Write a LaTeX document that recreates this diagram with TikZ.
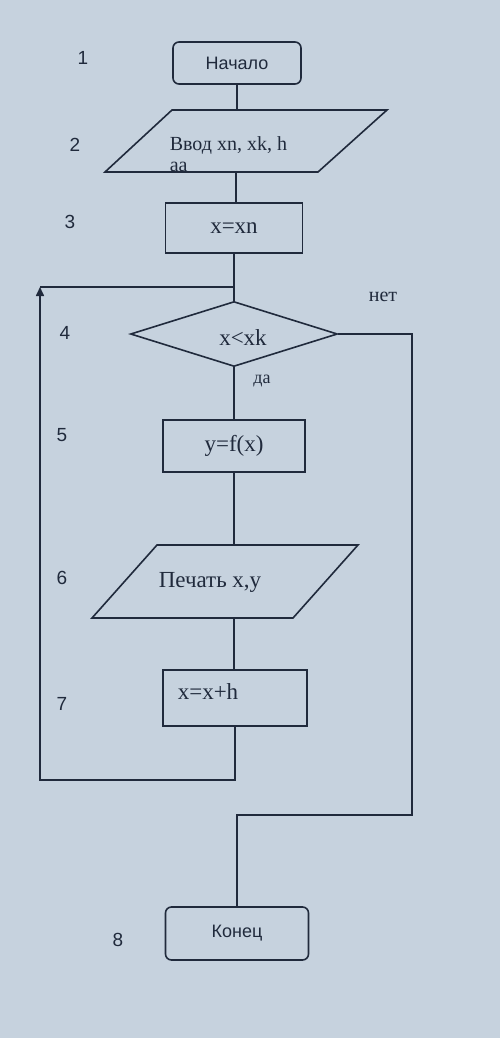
\documentclass[tikz,border=0pt]{standalone}
\usepackage{fontspec}
\setmainfont{Liberation Serif}
\newfontfamily\arialf{Liberation Sans}
\usetikzlibrary{arrows.meta,shapes.geometric}
\definecolor{paper}{RGB}{198,210,222}
\definecolor{ink}{RGB}{32,42,60}
\begin{document}
\begin{tikzpicture}[x=1pt,y=-1pt,line width=1.6pt,draw=ink,text=ink,
  term/.style={draw,rounded corners=6pt,inner sep=0pt,font=\arialf\fontsize{18}{20}\selectfont},
  proc/.style={draw,inner sep=0pt,font=\fontsize{23}{25}\selectfont},
  io/.style={draw,line join=miter},
  lbl/.style={font=\fontsize{20}{22}\selectfont,inner sep=0pt},
  big/.style={font=\fontsize{23}{25}\selectfont,inner sep=0pt},
  num/.style={font=\arialf\fontsize{19}{22}\selectfont,inner sep=0pt},
  conn/.style={draw,line width=1.6pt}]
\fill[paper] (0,0) rectangle (500,1038);
\useasboundingbox (0,0) rectangle (500,1038);

% step numbers
\node[num] (n1) at (83,58) {1};
\node[num] (n2) at (75,145) {2};
\node[num] (n3) at (70,222) {3};
\node[num] (n4) at (65,333) {4};
\node[num] (n5) at (62,435) {5};
\node[num] (n6) at (62,578) {6};
\node[num] (n7) at (62,704) {7};
\node[num] (n8) at (118,940) {8};

% 1 start
\node[term,minimum width=128pt,minimum height=42pt] (start) at (237,63) {Начало};

% 2 input
\draw[io] (172,110) -- (387,110) -- (318,172) -- (105,172) -- cycle;
\coordinate (inTop) at (236,110);
\coordinate (inBot) at (236,172);
\node[lbl,anchor=base west] (in1) at (169,150) {Ввод xn, xk, h};
\node[lbl,anchor=base west] (in2) at (169,171) {аа};

% 3 init
\node[proc,minimum width=137pt,minimum height=50pt] (init) at (234,228) {x=xn};

% 4 condition
\node[draw,diamond,inner sep=0pt,minimum width=207pt,minimum height=65pt] (cond) at (234,334) {};
\node[big] (condt) at (243,338) {x<xk};
\coordinate (j1) at (234,287);

% 5 calc
\node[proc,minimum width=142pt,minimum height=52pt] (calc) at (234,446) {y=f(x)};

% 6 print
\draw[io] (157,545) -- (358,545) -- (293,618) -- (92,618) -- cycle;
\coordinate (prTop) at (234,545);
\coordinate (prBot) at (234,618);
\node[big] (prt) at (210,582) {Печать x,y};

% 7 increment
\node[proc,minimum width=144pt,minimum height=56pt] (incr) at (235,698) {};
\node[big] (incrt) at (208,692) {x=x+h};

% 8 end
\node[term,minimum width=143pt,minimum height=53pt] (stop) at (237,933.5) {Конец};

% branch labels
\node[lbl] (no) at (383,297) {нет};
\node[lbl,font=\fontsize{18}{20}\selectfont] (yes) at (262,381) {да};

% connectors
\coordinate (lb) at (40,780);
\coordinate (lt) at (40,287);
\coordinate (nr) at (412,815);

\draw[conn] (start.south) -- (start.south |- inTop);
\draw[conn] (inBot) -- (inBot |- init.north);
\draw[conn] (init.south) -- (init.south |- cond.north);
\draw[conn] (cond.south) -- (cond.south |- calc.north);
\draw[conn] (calc.south) -- (calc.south |- prTop);
\draw[conn] (prBot) -- (prBot |- incr.north);
\draw[conn,-{Triangle[length=9pt,width=8pt]}] (incr.south) |- (lb) -- (lt);
\draw[conn] (lt) -- (j1);
\draw[conn] (cond.east) -| (nr) -- (stop.north |- nr) -- (stop.north);
\end{tikzpicture}
\end{document}
